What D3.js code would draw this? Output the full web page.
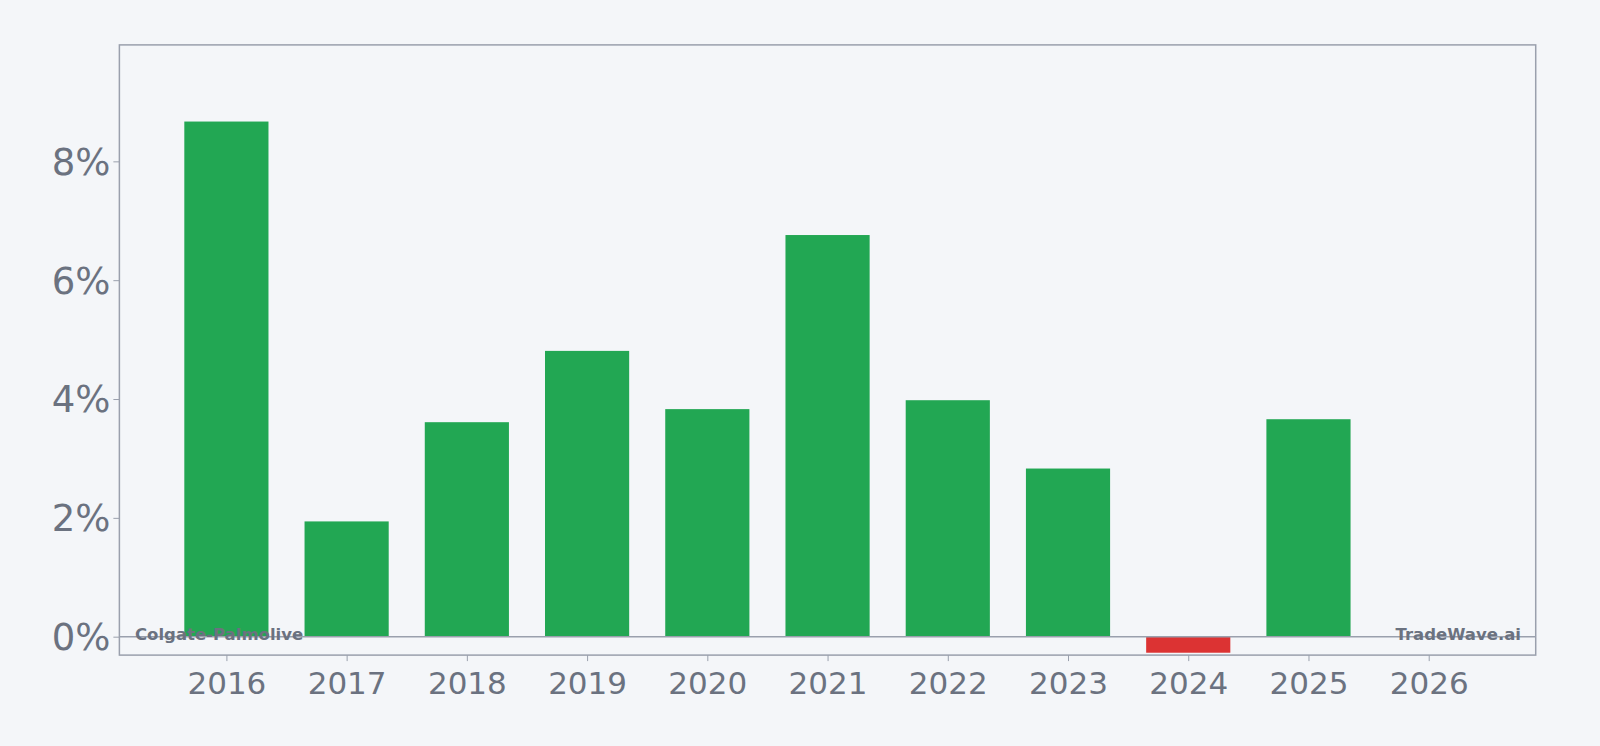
<!DOCTYPE html>
<html><head><meta charset="utf-8">
<script src="https://cdn.jsdelivr.net/npm/d3@7/dist/d3.min.js"></script>
<style>body{margin:0;background:#f4f6f9;}svg{display:block;font-family:"DejaVu Sans",sans-serif;}</style>
</head><body><svg id="c" width="1600" height="746"></svg>
<script>
const years=[2016,2017,2018,2019,2020,2021,2022,2023,2024,2025];
const values=[8.67,1.94,3.61,4.81,3.83,6.76,3.98,2.83,-0.27,3.66];
const xTicks=[2016,2017,2018,2019,2020,2021,2022,2023,2024,2025,2026];
const yTicks=[0,2,4,6,8];
const svg=d3.select("#c");
const k=1600/1568;
const L=117*k,R=1505*k,T=44*k,B=642*k;
const x=d3.scaleLinear().domain([2015.11,2026.89]).range([L,R]);
const y=d3.scaleLinear().domain([-0.31,9.96]).range([B,T]);
const bw=(x(2017)-x(2016))*0.7;
const gray="#6b7280";
svg.append("g").selectAll("rect").data(years).join("rect")
 .attr("x",(d)=>x(d)-bw/2).attr("width",bw)
 .attr("y",(d,i)=>y(Math.max(0,values[i]))).attr("height",(d,i)=>Math.abs(y(values[i])-y(0)))
 .attr("fill",(d,i)=>values[i]>=0?"#22a753":"#dc3333");
svg.append("line").attr("x1",L).attr("x2",R).attr("y1",y(0)).attr("y2",y(0)).attr("stroke","#9aa0ad").attr("stroke-width",1.5);
const ya=svg.append("g").attr("transform",`translate(${L},0)`).call(d3.axisLeft(y).tickValues(yTicks).tickFormat(d=>d+"%").tickSize(6));
ya.select(".domain").remove();
ya.selectAll("line").attr("stroke","#9aa0ad");
ya.selectAll("text").attr("fill",gray).attr("font-size",37).attr("font-family","DejaVu Sans").attr("dy","0.35em");
const xa=svg.append("g").attr("transform",`translate(0,${B})`).call(d3.axisBottom(x).tickValues(xTicks).tickFormat(d3.format("d")).tickSize(6));
xa.select(".domain").remove();
xa.selectAll("line").attr("stroke","#9aa0ad");
xa.selectAll("text").attr("fill",gray).attr("font-size",31).attr("font-family","DejaVu Sans").attr("dy","0.95em");
svg.append("rect").attr("x",L).attr("y",T).attr("width",R-L).attr("height",B-T).attr("fill","none").attr("stroke","#9aa0ad").attr("stroke-width",1.5);
svg.append("text").attr("x",135).attr("y",640).attr("fill",gray).attr("font-size",16.5).attr("font-weight","bold").text("Colgate-Palmolive");
svg.append("text").attr("x",1521).attr("y",640).attr("text-anchor","end").attr("fill",gray).attr("font-size",16.5).attr("font-weight","bold").text("TradeWave.ai");
</script></body></html>
